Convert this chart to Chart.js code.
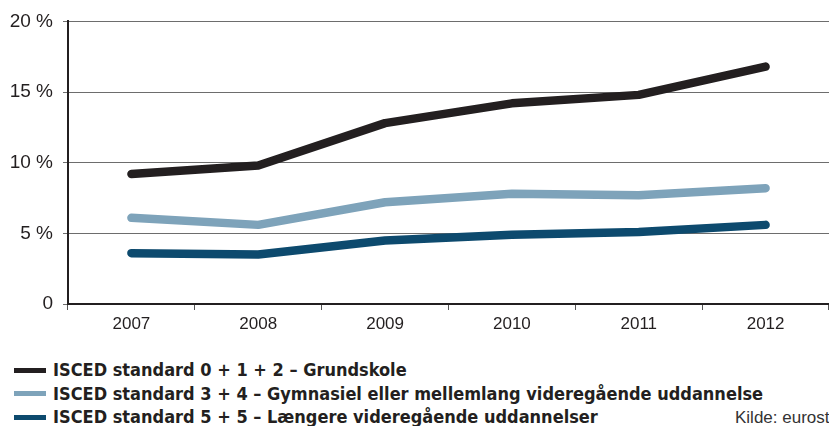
<!DOCTYPE html>
<html>
<head>
<meta charset="utf-8">
<script src="https://cdn.jsdelivr.net/npm/chart.js@4"></script>
<style>
  html, body { margin: 0; padding: 0; background: #fff; overflow: hidden; }
  #wrap { position: relative; width: 829px; height: 426px; }
  #chart { position: absolute; left: 0; top: 0; }
  #legend { position: absolute; left: 14px; top: 358px; font-family: "DejaVu Sans Condensed", "Liberation Sans Narrow", sans-serif; font-weight: bold; font-size: 18px; color: #231f20; }
  .row { height: 23.5px; line-height: 23.5px; white-space: nowrap; }
  .swatch { display: inline-block; width: 32px; height: 5px; vertical-align: middle; margin-right: 7px; position: relative; top: -1px; }
  #source { position: absolute; left: 735px; top: 408px; font-family: "Liberation Sans", sans-serif; font-size: 17px; color: #333; white-space: nowrap; }
</style>
</head>
<body>
<div id="wrap">
  <canvas id="chart" width="829" height="344"></canvas>
  <div id="legend"></div>
  <div id="source">Kilde: eurostat</div>
</div>
<script>
const years = ['2007', '2008', '2009', '2010', '2011', '2012'];
const seriesNames = [
  'ISCED  standard 0 + 1 + 2 – Grundskole',
  'ISCED  standard 3 + 4 – Gymnasiel eller mellemlang videregående uddannelse',
  'ISCED  standard 5 + 5 – Længere videregående uddannelser'
];
const grundskole = [9.2, 9.8, 12.8, 14.2, 14.8, 16.8];
const gymnasiel = [6.1, 5.6, 7.2, 7.8, 7.7, 8.2];
const laengere = [3.6, 3.5, 4.5, 4.9, 5.1, 5.6];
const yTicks = [0, 5, 10, 15, 20];
const colors = ['#231f20', '#7ea3ba', '#0d4a6e'];

const allSeries = [grundskole, gymnasiel, laengere];

// Legend below the chart
const legendDiv = document.getElementById('legend');
seriesNames.forEach((name, i) => {
  const row = document.createElement('div');
  row.className = 'row';
  row.innerHTML = `<span class="swatch" style="background:${colors[i]}"></span>${name}`;
  legendDiv.appendChild(row);
});

const ctx = document.getElementById('chart').getContext('2d');
new Chart(ctx, {
  type: 'line',
  data: {
    labels: years,
    datasets: allSeries.map((values, i) => ({
      label: seriesNames[i],
      data: values,
      borderColor: colors[i],
      backgroundColor: colors[i],
      borderWidth: 8.5,
      borderCapStyle: 'round',
      borderJoinStyle: 'round',
      pointRadius: 0,
      tension: 0,
      fill: false
    })).reverse()
  },
  options: {
    responsive: false,
    animation: false,
    layout: { padding: { top: 15, right: 0, left: 0, bottom: 0 } },
    plugins: { legend: { display: false }, tooltip: { enabled: false } },
    scales: {
      x: {
        offset: true,
        afterFit: s => { s.height = 40; },
        grid: {
          offset: true,
          drawOnChartArea: false,
          drawTicks: true,
          tickLength: 6,
          color: '#555',
          lineWidth: 1
        },
        border: { color: '#231f20', width: 2 },
        ticks: { color: '#231f20', font: { family: 'Liberation Sans', size: 17 }, padding: 4 }
      },
      y: {
        min: 0,
        max: 20,
        afterFit: s => { s.width = 68; },
        afterBuildTicks: s => { s.ticks = yTicks.map(v => ({ value: v })); },
        grid: { color: '#6d6d6d', lineWidth: 1, tickLength: 5 },
        border: { color: '#231f20', width: 2 },
        ticks: {
          color: '#231f20',
          font: { family: 'Liberation Sans', size: 19 },
          padding: 10,
          callback: v => v === 0 ? '0' : v + ' %'
        }
      }
    }
  }
});
</script>
</body>
</html>
